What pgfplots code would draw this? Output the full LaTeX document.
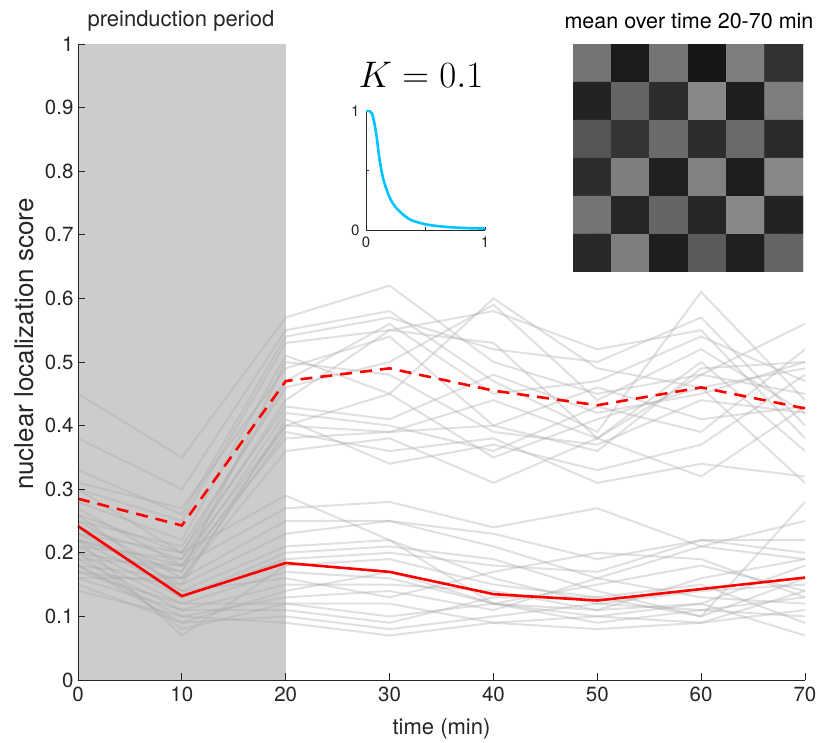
\documentclass[border=0pt]{standalone}
\usepackage{pgfplots}
\pgfplotsset{compat=1.18}
\usepackage{fontspec}
\setmainfont{TeX Gyre Heros}
\definecolor{axgray}{RGB}{38,38,38}
\definecolor{bandgray}{RGB}{204,204,204}
\definecolor{cyanK}{RGB}{0,196,255}
\definecolor{linegray}{RGB}{172,172,172}
\pgfplotsset{
  grayline/.style={draw=linegray, opacity=0.37, line width=2pt, forget plot},
}
\begin{document}
\begin{tikzpicture}[x=1pt,y=1pt]
\begin{axis}[
  at={(0pt,0pt)}, anchor=origin,
  width=727pt, height=636pt, scale only axis,
  xmin=0, xmax=70, ymin=0, ymax=1,
  axis x line=bottom, axis y line=left,
  axis line style={-, axgray, line width=0.8pt},
  axis on top,
  tick align=inside, major tick length=7pt,
  tick style={axgray, line width=0.8pt},
  xtick={0,10,20,30,40,50,60,70},
  xticklabels={0,10,20,30,40,50,60,70},
  ytick={0,0.1,0.2,0.3,0.4,0.5,0.6,0.7,0.8,0.9,1},
  yticklabels={0,0.1,0.2,0.3,0.4,0.5,0.6,0.7,0.8,0.9,1},
  ticklabel style={font=\fontsize{20.5}{24}\selectfont, text=axgray},
  xticklabel style={yshift=-3pt},
  yticklabel style={xshift=-1pt},
  xlabel={time (min)},
  ylabel={nuclear localization score},
  xlabel style={font=\fontsize{22}{26}\selectfont, text=axgray, at={(axis description cs:0.5,-0.077)}, anchor=center},
  ylabel style={font=\fontsize{26}{30}\selectfont, text=axgray, at={(axis description cs:-0.0743,0.528)}, anchor=center},
  clip=false,
]
\fill[bandgray] (axis cs:0,0) rectangle (axis cs:20,1);
% upper group
\addplot[grayline] coordinates {(0,0.45)(10,0.35)(20,0.57)(30,0.62)(40,0.50)(50,0.45)(60,0.48)(70,0.56)};
\addplot[grayline] coordinates {(0,0.38)(10,0.30)(20,0.55)(30,0.58)(40,0.47)(50,0.39)(60,0.61)(70,0.44)};
\addplot[grayline] coordinates {(0,0.33)(10,0.26)(20,0.54)(30,0.57)(40,0.52)(50,0.50)(60,0.57)(70,0.40)};
\addplot[grayline] coordinates {(0,0.30)(10,0.25)(20,0.53)(30,0.55)(40,0.58)(50,0.52)(60,0.55)(70,0.38)};
\addplot[grayline] coordinates {(0,0.28)(10,0.22)(20,0.51)(30,0.45)(40,0.60)(50,0.49)(60,0.46)(70,0.49)};
\addplot[grayline] coordinates {(0,0.26)(10,0.20)(20,0.47)(30,0.56)(40,0.45)(50,0.47)(60,0.54)(70,0.47)};
\addplot[grayline] coordinates {(0,0.25)(10,0.21)(20,0.46)(30,0.50)(40,0.59)(50,0.44)(60,0.52)(70,0.42)};
\addplot[grayline] coordinates {(0,0.24)(10,0.19)(20,0.44)(30,0.55)(40,0.53)(50,0.38)(60,0.50)(70,0.36)};
\addplot[grayline] coordinates {(0,0.23)(10,0.20)(20,0.43)(30,0.41)(40,0.48)(50,0.42)(60,0.45)(70,0.50)};
\addplot[grayline] coordinates {(0,0.22)(10,0.18)(20,0.42)(30,0.40)(40,0.36)(50,0.43)(60,0.39)(70,0.52)};
\addplot[grayline] coordinates {(0,0.21)(10,0.19)(20,0.40)(30,0.39)(40,0.44)(50,0.38)(60,0.48)(70,0.45)};
\addplot[grayline] coordinates {(0,0.20)(10,0.17)(20,0.40)(30,0.45)(40,0.35)(50,0.41)(60,0.46)(70,0.31)};
\addplot[grayline] coordinates {(0,0.19)(10,0.18)(20,0.38)(30,0.39)(40,0.40)(50,0.46)(60,0.41)(70,0.43)};
\addplot[grayline] coordinates {(0,0.18)(10,0.16)(20,0.36)(30,0.38)(40,0.31)(50,0.38)(60,0.32)(70,0.43)};
\addplot[grayline] coordinates {(0,0.17)(10,0.15)(20,0.41)(30,0.34)(40,0.37)(50,0.33)(60,0.37)(70,0.48)};
\addplot[grayline] coordinates {(0,0.16)(10,0.16)(20,0.39)(30,0.36)(40,0.38)(50,0.31)(60,0.34)(70,0.32)};
\addplot[grayline] coordinates {(0,0.22)(10,0.17)(20,0.50)(30,0.48)(40,0.39)(50,0.37)(60,0.44)(70,0.42)};
\addplot[grayline] coordinates {(0,0.31)(10,0.27)(20,0.49)(30,0.54)(40,0.40)(50,0.36)(60,0.49)(70,0.50)};
% lower group
\addplot[grayline] coordinates {(0,0.30)(10,0.20)(20,0.29)(30,0.22)(40,0.12)(50,0.10)(60,0.12)(70,0.07)};
\addplot[grayline] coordinates {(0,0.27)(10,0.18)(20,0.27)(30,0.28)(40,0.24)(50,0.27)(60,0.21)(70,0.19)};
\addplot[grayline] coordinates {(0,0.25)(10,0.16)(20,0.25)(30,0.25)(40,0.23)(50,0.19)(60,0.22)(70,0.22)};
\addplot[grayline] coordinates {(0,0.23)(10,0.15)(20,0.23)(30,0.25)(40,0.21)(50,0.16)(60,0.21)(70,0.25)};
\addplot[grayline] coordinates {(0,0.22)(10,0.14)(20,0.21)(30,0.22)(40,0.16)(50,0.12)(60,0.14)(70,0.15)};
\addplot[grayline] coordinates {(0,0.21)(10,0.13)(20,0.20)(30,0.21)(40,0.19)(50,0.14)(60,0.10)(70,0.28)};
\addplot[grayline] coordinates {(0,0.20)(10,0.12)(20,0.17)(30,0.16)(40,0.12)(50,0.15)(60,0.18)(70,0.14)};
\addplot[grayline] coordinates {(0,0.19)(10,0.11)(20,0.15)(30,0.15)(40,0.14)(50,0.11)(60,0.16)(70,0.19)};
\addplot[grayline] coordinates {(0,0.18)(10,0.10)(20,0.13)(30,0.14)(40,0.11)(50,0.16)(60,0.13)(70,0.12)};
\addplot[grayline] coordinates {(0,0.17)(10,0.12)(20,0.12)(30,0.10)(40,0.12)(50,0.09)(60,0.11)(70,0.13)};
\addplot[grayline] coordinates {(0,0.16)(10,0.11)(20,0.11)(30,0.09)(40,0.13)(50,0.13)(60,0.10)(70,0.16)};
\addplot[grayline] coordinates {(0,0.15)(10,0.09)(20,0.10)(30,0.08)(40,0.10)(50,0.12)(60,0.11)(70,0.10)};
\addplot[grayline] coordinates {(0,0.14)(10,0.10)(20,0.09)(30,0.07)(40,0.09)(50,0.08)(60,0.09)(70,0.14)};
\addplot[grayline] coordinates {(0,0.20)(10,0.08)(20,0.12)(30,0.12)(40,0.09)(50,0.10)(60,0.09)(70,0.11)};
\addplot[grayline] coordinates {(0,0.24)(10,0.13)(20,0.19)(30,0.20)(40,0.18)(50,0.17)(60,0.22)(70,0.20)};
\addplot[grayline] coordinates {(0,0.26)(10,0.14)(20,0.16)(30,0.13)(40,0.17)(50,0.20)(60,0.19)(70,0.13)};
\addplot[grayline] coordinates {(0,0.18)(10,0.09)(20,0.14)(30,0.17)(40,0.12)(50,0.11)(60,0.12)(70,0.18)};
\addplot[grayline] coordinates {(0,0.22)(10,0.07)(20,0.18)(30,0.19)(40,0.15)(50,0.13)(60,0.15)(70,0.09)};
% means
\addplot[red, line width=2.6pt, dash pattern=on 12pt off 8pt] coordinates {(0,0.285)(10,0.243)(20,0.470)(30,0.490)(40,0.455)(50,0.432)(60,0.460)(70,0.427)};
\addplot[red, line width=2.6pt] coordinates {(0,0.242)(10,0.132)(20,0.184)(30,0.170)(40,0.135)(50,0.125)(60,0.143)(70,0.161)};
\end{axis}
\node[font=\fontsize{22}{26}\selectfont, text=axgray] at (103pt,659pt) {preinduction period};
\node[font=\fontsize{21.5}{26}\selectfont, text=black] at (611pt,659pt) {mean over time 20-70 min};
\node[font=\fontsize{17.28}{20}\selectfont] at (343pt,605pt) {\scalebox{2.14}{$K=0.1$}};
% inset
\begin{axis}[
  at={(288pt,450pt)}, anchor=south west,
  width=119pt, height=119pt, scale only axis,
  xmin=0, xmax=1, ymin=0, ymax=1,
  axis x line=bottom, axis y line=left,
  axis line style={-, axgray, line width=0.8pt},
  tick align=inside, major tick length=3pt,
  tick style={axgray, line width=0.6pt},
  xtick={0,0.5,1}, xticklabels={0,,1},
  ytick={0,0.5,1}, yticklabels={0,,1},
  ticklabel style={font=\fontsize{15}{17}\selectfont, text=axgray},
  xticklabel style={yshift=-3pt}, yticklabel style={xshift=-3pt},
]
\addplot[cyanK, line width=2.6pt, smooth] coordinates {(0,1)(0.03,1)(0.05,0.98)(0.07,0.9)(0.09,0.78)(0.11,0.62)(0.13,0.5)(0.15,0.41)(0.18,0.32)(0.21,0.25)(0.25,0.19)(0.3,0.14)(0.35,0.1)(0.4,0.075)(0.5,0.048)(0.6,0.033)(0.7,0.024)(0.8,0.018)(0.9,0.014)(1,0.012)};
\end{axis}
% checkerboard
\begin{axis}[
  at={(495pt,408pt)}, anchor=south west,
  width=230pt, height=228pt, scale only axis,
  xmin=0.5, xmax=6.5, ymin=0.5, ymax=6.5, y dir=reverse,
  hide axis,
  colormap={bw}{gray(0cm)=(0); gray(1cm)=(1)},
  point meta min=0, point meta max=255,
]
\addplot[matrix plot*, mesh/cols=6, point meta=explicit] table[meta=c] {
x y c
1 1 115
2 1 28
3 1 115
4 1 22
5 1 125
6 1 50
1 2 35
2 2 100
3 2 45
4 2 135
5 2 30
6 2 125
1 3 85
2 3 52
3 3 105
4 3 45
5 3 105
6 3 42
1 4 45
2 4 125
3 4 32
4 4 128
5 4 30
6 4 135
1 5 115
2 5 38
3 5 100
4 5 38
5 5 135
6 5 35
1 6 40
2 6 125
3 6 30
4 6 90
5 6 32
6 6 100
};
\end{axis}
\pgfresetboundingbox
\path[use as bounding box] (-78pt,-62pt) rectangle (739pt,680pt);
\end{tikzpicture}
\end{document}
